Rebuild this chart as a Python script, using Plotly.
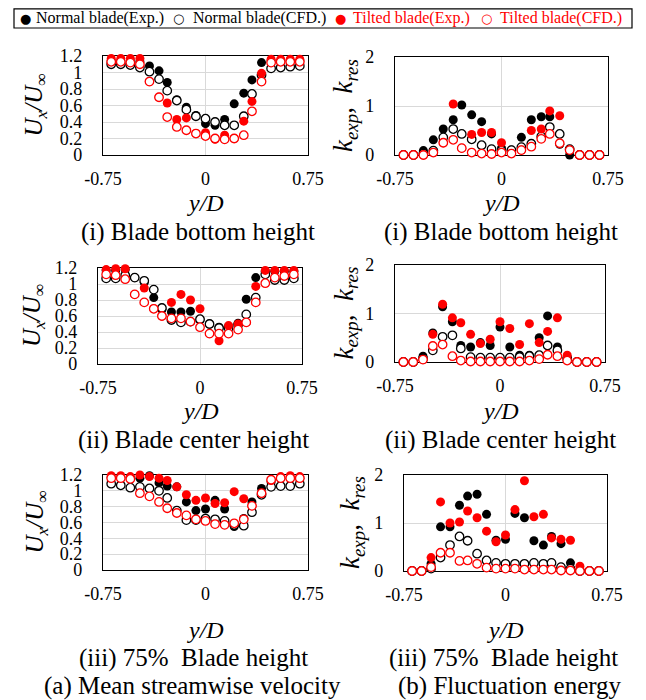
import plotly.graph_objects as go

# ---------------- data ----------------
y_D = [-0.69, -0.62, -0.55, -0.48, -0.41, -0.34, -0.28, -0.21, -0.14, -0.07, 0.0,
       0.07, 0.14, 0.21, 0.28, 0.34, 0.41, 0.48, 0.55, 0.62, 0.69]

# (a) mean streamwise velocity U_x/U_inf
u_bottom_normal_exp = [1.14, 1.14, 1.14, 1.13, 1.08, 1.02, 0.88, 0.67, 0.58, 0.48, 0.38, 0.36, 0.43, 0.62, 0.75, 0.91, 1.12, 1.14, 1.14, 1.14, 1.14]
u_bottom_normal_cfd = [1.10, 1.10, 1.09, 1.06, 1.01, 0.92, 0.78, 0.66, 0.55, 0.47, 0.44, 0.40, 0.36, 0.36, 0.47, 0.74, 0.97, 1.05, 1.06, 1.07, 1.08]
u_bottom_tilted_exp = [1.17, 1.17, 1.17, 1.17, 0.89, 0.70, 0.63, 0.43, 0.45, 0.26, 0.27, 0.19, 0.24, 0.20, 0.41, 0.65, 0.99, 1.16, 1.16, 1.16, 1.16]
u_bottom_tilted_cfd = [1.13, 1.13, 1.12, 1.10, 0.89, 0.70, 0.46, 0.34, 0.30, 0.26, 0.23, 0.20, 0.19, 0.20, 0.24, 0.53, 0.89, 1.12, 1.13, 1.13, 1.13]

u_center_normal_exp = [1.17, 1.17, 1.18, 1.08, 1.02, 0.83, 0.68, 0.65, 0.65, 0.66, 0.55, 0.50, 0.46, 0.47, 0.51, 0.81, 1.08, 1.16, 1.16, 1.16, 1.16]
u_center_normal_cfd = [1.07, 1.07, 1.11, 1.08, 1.04, 0.93, 0.70, 0.55, 0.52, 0.53, 0.56, 0.50, 0.45, 0.45, 0.49, 0.62, 0.83, 1.12, 1.05, 1.05, 1.07]
u_center_tilted_exp = [1.18, 1.19, 1.19, 0.87, 0.95, 0.69, 0.60, 0.77, 0.87, 0.80, 0.69, 0.38, 0.29, 0.48, 0.50, 0.52, 0.97, 1.17, 1.17, 1.17, 1.17]
u_center_tilted_cfd = [1.12, 1.11, 1.06, 0.87, 0.77, 0.69, 0.60, 0.57, 0.57, 0.53, 0.46, 0.38, 0.38, 0.38, 0.43, 0.52, 0.77, 1.01, 1.08, 1.10, 1.12]

u_75_normal_exp = [1.17, 1.17, 1.17, 1.16, 1.19, 1.10, 1.06, 1.05, 0.86, 0.75, 0.77, 0.88, 0.77, 0.55, 0.65, 0.86, 1.03, 1.11, 1.16, 1.16, 1.16]
u_75_normal_cfd = [1.09, 1.07, 1.04, 1.05, 1.03, 1.00, 0.91, 0.75, 0.63, 0.63, 0.65, 0.64, 0.62, 0.57, 0.56, 0.73, 0.95, 1.05, 1.06, 1.06, 1.09]
u_75_tilted_exp = [1.19, 1.19, 1.18, 1.20, 1.18, 1.16, 1.13, 1.05, 0.95, 0.88, 0.91, 0.84, 0.85, 0.99, 0.90, 0.81, 0.97, 1.13, 1.18, 1.19, 1.18]
u_75_tilted_cfd = [1.16, 1.16, 1.15, 0.97, 0.93, 0.86, 0.78, 0.72, 0.69, 0.64, 0.62, 0.58, 0.57, 0.59, 0.64, 0.81, 0.97, 1.14, 1.16, 1.16, 1.16]

# (b) fluctuation energy k_exp, k_res
k_bottom_normal_exp = [0, 0, 0.09, 0.31, 0.53, 0.72, 1.02, 0.82, 0.68, 0.43, 0.14, 0.10, 0.36, 0.72, 0.78, 0.78, 0.22, 0, 0, 0, 0]
k_bottom_normal_cfd = [0, 0, 0.03, 0.09, 0.36, 0.53, 0.43, 0.32, 0.20, 0.12, 0.09, 0.10, 0.16, 0.23, 0.38, 0.57, 0.43, 0.12, 0, 0, 0]
k_bottom_tilted_exp = [0, 0, 0, 0.05, 0.25, 1.04, 0.14, 0.42, 0.46, 0.46, 0.25, 0.03, 0.10, 0.50, 0.53, 0.90, 0.80, 0.10, 0, 0, 0]
k_bottom_tilted_cfd = [0, 0, 0, 0.05, 0.25, 0.31, 0.14, 0.05, 0.03, 0.02, 0.05, 0.03, 0.10, 0.17, 0.33, 0.43, 0.24, 0.10, 0, 0, 0]

k_center_normal_exp = [0, 0, 0.12, 0.60, 1.14, 0.83, 0.34, 0.31, 0.40, 0.34, 0.72, 0.31, 0.14, 0.14, 0.50, 0.95, 0.31, 0.10, 0, 0, 0]
k_center_normal_cfd = [0, 0, 0.07, 0.24, 0.52, 0.55, 0.28, 0.10, 0.09, 0.09, 0.09, 0.09, 0.10, 0.12, 0.14, 0.34, 0.24, 0.07, 0, 0, 0]
k_center_tilted_exp = [0, 0, 0.05, 0.57, 1.19, 0.91, 0.81, 0.57, 0.38, 0.47, 0.83, 0.69, 0.36, 0.79, 0.40, 0.63, 0.91, 0.14, 0, 0, 0]
k_center_tilted_cfd = [0, 0, 0.05, 0.33, 0.36, 0.12, 0.03, 0.01, 0.01, 0.01, 0.01, 0.01, 0.01, 0.03, 0.06, 0.15, 0.12, 0.03, 0, 0, 0]

k_75_normal_exp = [0, 0, 0.15, 0.92, 0.92, 1.37, 1.56, 1.60, 1.18, 0.64, 0.66, 1.20, 1.11, 0.63, 0.54, 0.72, 0.57, 0.17, 0, 0, 0]
k_75_normal_cfd = [0, 0, 0.05, 0.28, 0.54, 0.72, 0.63, 0.36, 0.22, 0.17, 0.15, 0.15, 0.15, 0.17, 0.15, 0.17, 0.08, 0.05, 0, 0, 0]
k_75_tilted_exp = [0, 0, 0.28, 1.44, 1.00, 1.02, 1.25, 1.11, 0.83, 0.61, 0.75, 1.28, 1.88, 1.13, 1.18, 0.69, 0.66, 0.64, 0.10, 0, 0]
k_75_tilted_cfd = [0, 0, 0.08, 0.38, 0.38, 0.21, 0.22, 0.15, 0.07, 0.05, 0.05, 0.05, 0.03, 0.03, 0.03, 0.03, 0.01, 0.01, 0, 0, 0]

x_ticks = [-0.75, 0, 0.75]
x_tick_text = ["-0.75", "0", "0.75"]
u_ticks = [0, 0.2, 0.4, 0.6, 0.8, 1.0, 1.2]
u_tick_text = ["0", "0.2", "0.4", "0.6", "0.8", "1", "1.2"]
k_ticks = [0, 1, 2]
k_tick_text = ["0", "1", "2"]

series_names = ["Normal blade(Exp.)", "Normal blade(CFD.)", "Tilted blade(Exp.)", "Tilted blade(CFD.)"]
panel_titles = ["(i) Blade bottom height", "(ii) Blade center height", "(iii) 75%\u00a0 Blade height"]
captions = ["(a) Mean streamwise velocity", "(b) Fluctuation energy"]

panels = [
    [u_bottom_normal_exp, u_bottom_normal_cfd, u_bottom_tilted_exp, u_bottom_tilted_cfd],
    [k_bottom_normal_exp, k_bottom_normal_cfd, k_bottom_tilted_exp, k_bottom_tilted_cfd],
    [u_center_normal_exp, u_center_normal_cfd, u_center_tilted_exp, u_center_tilted_cfd],
    [k_center_normal_exp, k_center_normal_cfd, k_center_tilted_exp, k_center_tilted_cfd],
    [u_75_normal_exp, u_75_normal_cfd, u_75_tilted_exp, u_75_tilted_cfd],
    [k_75_normal_exp, k_75_normal_cfd, k_75_tilted_exp, k_75_tilted_cfd],
]

# ---------------- layout geometry (window pixels) ----------------
WIN_W, WIN_H = 646, 700
OFF = 8                       # default page body margin
W, H = WIN_W - OFF, WIN_H - OFF
FONT = "Liberation Serif"
RED = "#ff0000"
boxes = [(103, 308, 56, 155), (395, 608, 57, 155),
         (98, 302, 268, 364), (395, 605, 265, 362),
         (103, 308, 475, 570), (404, 607, 475, 571)]

def fx(p):
    return (p - OFF) / W

def fy(p):
    return 1 - (p - OFF) / H

styles = [
    dict(color="black", size=9, line=dict(width=0)),
    dict(color="white", size=8.5, line=dict(color="black", width=1.3)),
    dict(color=RED, size=9, line=dict(width=0)),
    dict(color="white", size=8.5, line=dict(color=RED, width=1.3)),
]

fig = go.Figure()
layout = dict(template="none", width=W, height=H, autosize=False,
              margin=dict(l=0, r=0, t=0, b=0, pad=0),
              paper_bgcolor="white", plot_bgcolor="white", showlegend=False,
              font=dict(family=FONT, color="black"))

for i, (data, box) in enumerate(zip(panels, boxes)):
    n = "" if i == 0 else str(i + 1)
    is_u = (i % 2 == 0)
    for j, ys in enumerate(data):
        fig.add_trace(go.Scatter(x=y_D, y=ys, mode="markers", name=series_names[j],
                                 marker=dict(symbol="circle", **styles[j]),
                                 cliponaxis=False, xaxis="x" + n, yaxis="y" + n))
    x0, x1, y0, y1 = box
    common = dict(showline=True, mirror=True, linecolor="black", linewidth=1.3,
                  showgrid=True, gridcolor="#d9d9d9", gridwidth=1, zeroline=False,
                  ticks="", layer="below traces", automargin=False,
                  tickfont=dict(family=FONT, size=18, color="black"))
    layout["xaxis" + n] = dict(domain=[fx(x0), fx(x1)], range=[-0.75, 0.75],
                               tickvals=x_ticks, ticktext=x_tick_text,
                               anchor="y" + n, ticklabelstandoff=7, **common)
    layout["yaxis" + n] = dict(domain=[fy(y1), fy(y0)],
                               range=[0, 1.2] if is_u else [0, 2],
                               tickvals=u_ticks if is_u else k_ticks,
                               ticktext=u_tick_text if is_u else k_tick_text,
                               anchor="x" + n, ticklabelstandoff=16, **common)

fig.update_layout(**layout)

ann = []
# y-axis titles
ylab_u = "<i>U</i><sub><i>x</i></sub><i>/U</i><sub>\u221e</sub>"
ylab_k = "<i>k</i><sub><i>exp</i></sub><i>,\u00a0 k</i><sub><i>res</i></sub>"
ylab_x = [35, 345, 33, 345, 36, 352]
for i, box in enumerate(boxes):
    x0, x1, y0, y1 = box
    ann.append(dict(text=ylab_u if i % 2 == 0 else ylab_k, x=fx(ylab_x[i]), y=fy((y0 + y1) / 2),
                    xref="paper", yref="paper", textangle=-90, showarrow=False,
                    xanchor="center", yanchor="middle",
                    font=dict(family=FONT, size=25 if i % 2 == 0 else 27, color="black")))
    # y/D label
    ann.append(dict(text="<i>y/D</i>", x=fx((x0 + x1) / 2), y=fy([203, 203, 411, 411, 630, 630][i]),
                    xref="paper", yref="paper", showarrow=False, xanchor="center", yanchor="middle",
                    font=dict(family=FONT, size=24, color="black")))

title_x = [[198, 501], [193, 500], [193, 504]]
title_y = [232, 440, 658]
for r in range(3):
    for c in range(2):
        ann.append(dict(text=panel_titles[r], x=fx(title_x[r][c]), y=fy(title_y[r]),
                        xref="paper", yref="paper", showarrow=False, xanchor="center", yanchor="middle",
                        font=dict(family=FONT, size=25, color="black")))
for c, cx in enumerate([192, 510]):
    ann.append(dict(text=captions[c], x=fx(cx), y=fy(686), xref="paper", yref="paper",
                    showarrow=False, xanchor="center", yanchor="middle",
                    font=dict(family=FONT, size=25, color="black")))

# legend (drawn as text items inside a framed box)
leg_marker_x = [25, 178, 340, 486]
leg_text_x = [34, 191, 351, 498]
leg_symbols = ["\u25cf", "\u25cb", "\u25cf", "\u25cb"]
leg_colors = ["black", "black", RED, RED]
for j in range(4):
    ann.append(dict(text=leg_symbols[j], x=fx(leg_marker_x[j]), y=fy(18), xref="paper", yref="paper",
                    showarrow=False, xanchor="center", yanchor="middle",
                    font=dict(family="DejaVu Sans", size=13, color=leg_colors[j])))
    ann.append(dict(text=series_names[j], x=fx(leg_text_x[j]), y=fy(18), xref="paper", yref="paper",
                    showarrow=False, xanchor="left", yanchor="middle",
                    font=dict(family=FONT, size=16, color=leg_colors[j])))

fig.update_layout(annotations=ann,
                  shapes=[dict(type="rect", xref="paper", yref="paper",
                               x0=fx(14), x1=fx(632), y0=fy(28), y1=fy(8.8),
                               line=dict(color="black", width=1.2), fillcolor="rgba(0,0,0,0)")])

fig.write_html("out.html")
